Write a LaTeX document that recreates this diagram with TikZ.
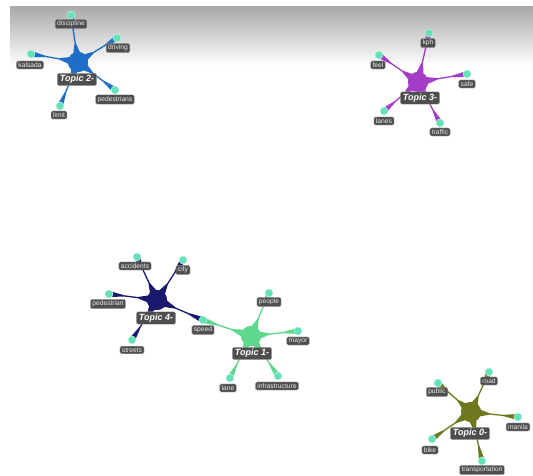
\documentclass[tikz,border=0pt]{standalone}
\usepackage{fontspec}
\setmainfont{Liberation Sans}
\usetikzlibrary{calc}
\definecolor{tblue}{RGB}{30,110,200}
\definecolor{tpurple}{RGB}{165,60,200}
\definecolor{tnavy}{RGB}{25,25,110}
\definecolor{tgreen}{RGB}{95,215,140}
\definecolor{tolive}{RGB}{110,120,30}
\definecolor{leafc}{RGB}{100,225,185}
\definecolor{lblc}{RGB}{78,78,78}
\newcommand{\tedge}[3]{%
  \path (#1.center) -- (#2.center) coordinate[pos=0.4] (ea) coordinate[pos=0.68] (eb);
  \fill[#3] ($(#1.center)!6pt!90:(#2.center)$) -- ($(ea)!0.65pt!90:(#2.center)$) -- ($(eb)!0.65pt!90:(#2.center)$)
    -- ($(#2.center)!3pt!-90:(#1.center)$) -- ($(#2.center)!3pt!90:(#1.center)$)
    -- ($(eb)!0.65pt!-90:(#2.center)$) -- ($(ea)!0.65pt!-90:(#2.center)$) -- ($(#1.center)!6pt!-90:(#2.center)$) -- cycle;}
\begin{document}
\begin{tikzpicture}[x=1pt,y=-1pt,
  leafdot/.style={circle,inner sep=0pt,minimum size=7pt},
  hubdot/.style={circle,inner sep=0pt,minimum size=20pt},
  lbl/.style={fill=lblc,rounded corners=1.5pt,text=white!92!black,inner xsep=2pt,inner ysep=1.6pt,
    font=\fontsize{6.7}{7.5}\selectfont,draw=white!70!black,line width=0.3pt},
  tlbl/.style={fill=lblc,rounded corners=1.5pt,text=white,inner xsep=2.5pt,inner ysep=2pt,
    font=\fontsize{9}{10}\selectfont\bfseries\itshape,draw=white!70!black,line width=0.3pt}]
\useasboundingbox (0,0) rectangle (533,475);
\fill[white] (0,0) rectangle (533,475);
\shade[top color=black!34,bottom color=white] (10,6) rectangle (533,66);

% ---- Topic 2 ----
\node[hubdot,fill=tblue] (h2) at (78,62) {};
\node[leafdot] (d2a) at (71,15) {};
\node[leafdot] (d2b) at (117,38) {};
\node[leafdot] (d2c) at (31,54) {};
\node[leafdot] (d2d) at (115,90) {};
\node[leafdot] (d2e) at (60,106) {};
% ---- Topic 3 ----
\node[hubdot,fill=tpurple] (h3) at (418,82) {};
\node[leafdot] (d3a) at (429,33) {};
\node[leafdot] (d3b) at (379,55) {};
\node[leafdot] (d3c) at (467,74) {};
\node[leafdot] (d3d) at (384,111) {};
\node[leafdot] (d3e) at (440,123) {};
% ---- Topic 4 ----
\node[hubdot,fill=tnavy] (h4) at (157,300) {};
\node[leafdot] (d4a) at (137,257) {};
\node[leafdot] (d4b) at (183,260) {};
\node[leafdot] (d4c) at (109,294) {};
\node[leafdot] (d4d) at (203,320) {};
\node[leafdot] (d4e) at (132,340) {};
% ---- Topic 1 ----
\node[hubdot,fill=tgreen] (h1) at (251,336) {};
\node[leafdot] (d1a) at (269,293) {};
\node[leafdot] (d1c) at (298,331) {};
\node[leafdot] (d1d) at (230,378) {};
\node[leafdot] (d1e) at (278,376) {};
% ---- Topic 0 ----
\node[hubdot,fill=tolive] (h0) at (471,412) {};
\node[leafdot] (d0a) at (489,372) {};
\node[leafdot] (d0b) at (438,383) {};
\node[leafdot] (d0c) at (518,417) {};
\node[leafdot] (d0d) at (432,439) {};
\node[leafdot] (d0e) at (482,461) {};

% edges
\foreach \l in {d2a,d2b,d2c,d2d,d2e}{\tedge{h2}{\l}{tblue}}
\foreach \l in {d3a,d3b,d3c,d3d,d3e}{\tedge{h3}{\l}{tpurple}}
\foreach \l in {d4a,d4b,d4c,d4d,d4e}{\tedge{h4}{\l}{tnavy}}
\foreach \l in {d1a,d4d,d1c,d1d,d1e}{\tedge{h1}{\l}{tgreen}}
\foreach \l in {d0a,d0b,d0c,d0d,d0e}{\tedge{h0}{\l}{tolive}}

% redraw hubs and dots on top
\foreach \h/\c in {h2/tblue,h3/tpurple,h4/tnavy,h1/tgreen,h0/tolive}{\fill[\c] (\h.center) circle (10pt);}
\foreach \l in {d2a,d2b,d2c,d2d,d2e,d3a,d3b,d3c,d3d,d3e,d4a,d4b,d4c,d4d,d4e,d1a,d1c,d1d,d1e,d0a,d0b,d0c,d0d,d0e}
  {\fill[leafc!45!white] (\l.center) circle (4.3pt); \fill[leafc] (\l.center) circle (3.5pt);}

% labels
\node[lbl] (l2a) at (71,24) {discipline};
\node[lbl] (l2b) at (118,48) {driving};
\node[lbl] (l2c) at (30,65) {kalsada};
\node[lbl] (l2d) at (115,99.5) {pedestrians};
\node[lbl] (l2e) at (59,115) {limit};
\node[tlbl] (t2) at (77,79.5) {Topic 2-};

\node[lbl] (l3a) at (428,43) {kph};
\node[lbl] (l3b) at (378,65) {feel};
\node[lbl] (l3c) at (467,84) {safe};
\node[lbl] (l3d) at (384,121) {lanes};
\node[lbl] (l3e) at (440,132) {traffic};
\node[tlbl] (t3) at (420,98) {Topic 3-};

\node[lbl] (l4a) at (135,266) {accidents};
\node[lbl] (l4b) at (183,270) {city};
\node[lbl] (l4c) at (108,304) {pedestrian};
\node[lbl] (l4d) at (203,330) {speed};
\node[lbl] (l4e) at (132,350) {streets};
\node[tlbl] (t4) at (156,318) {Topic 4-};

\node[lbl] (l1a) at (269,302) {people};
\node[lbl] (l1c) at (298,341) {mayor};
\node[lbl] (l1d) at (228,388) {lane};
\node[lbl] (l1e) at (277,386) {infrastructure};
\node[tlbl] (t1) at (252,353.5) {Topic 1-};

\node[lbl] (l0a) at (489,381) {road};
\node[lbl] (l0b) at (437,392) {public};
\node[lbl] (l0c) at (518,427) {manila};
\node[lbl] (l0d) at (430,450) {bike};
\node[lbl] (l0e) at (482,470) {transportation};
\node[tlbl] (t0) at (470,433.5) {Topic 0-};
\end{tikzpicture}
\end{document}
